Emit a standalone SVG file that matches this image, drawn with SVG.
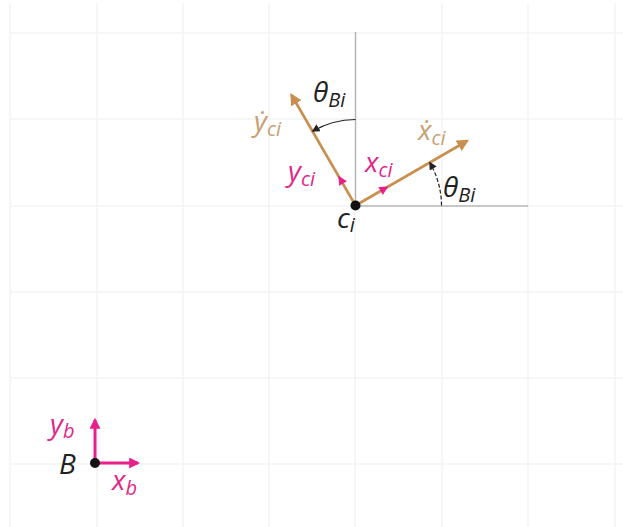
<svg xmlns="http://www.w3.org/2000/svg" width="623" height="527" viewBox="0 0 623 527">
<style>
.grid{stroke:#f4f4f4;stroke-width:1.5;fill:none}
.ref{stroke:#b5b5b5;stroke-width:1.5;fill:none}
.orange{stroke:#c98f4f;stroke-width:2.6;fill:none}
.pink{stroke:#e8208a;stroke-width:3;fill:none}
.arc{stroke:#222;stroke-width:1.2;fill:none}
.t{font-family:"Open Sans","DejaVu Sans",sans-serif;font-style:italic;font-size:28px}
.sub{font-size:20px}
.lo{fill:#c9a072}
.lp{fill:#e0288a}
.lk{fill:#222}
</style>
<defs>
<marker id="ao" viewBox="0 0 10 10" refX="8" refY="5" markerWidth="12" markerHeight="12" markerUnits="userSpaceOnUse" orient="auto"><path d="M0,0 L10,5 L0,10 Z" fill="#c98f4f"/></marker>
<marker id="ap" viewBox="0 0 10 10" refX="8" refY="5" markerWidth="11" markerHeight="11" markerUnits="userSpaceOnUse" orient="auto"><path d="M0,0 L10,5 L0,10 Z" fill="#e8208a"/></marker>
<marker id="ak" viewBox="0 0 10 10" refX="8" refY="5" markerWidth="8" markerHeight="8" markerUnits="userSpaceOnUse" orient="auto"><path d="M0,0 L10,5 L0,10 Z" fill="#222"/></marker>
</defs>
<rect width="623" height="527" fill="#fff"/>
<g id="grid" class="grid">
<path d="M10,3V527M97,3V527M183,3V527M269,3V527M355,206V527M442,3V527M528,3V527M615,3V527"/>
<path d="M10,33H623M10,119H623M10,206H355M528,206H623M10,292H623M10,378H623M10,464H623"/>
</g>
<g id="connectors">
<path class="ref" d="M355.5,32V206H528"/>
<line class="orange" x1="355.5" y1="205.5" x2="467" y2="141" marker-end="url(#ao)"/>
<line class="orange" x1="355.5" y1="205.5" x2="291.5" y2="95" marker-end="url(#ao)"/>
<path d="M5,0 L-4,-4.5 L-4,4.5 Z" fill="#e8208a" transform="translate(384,189) rotate(-30)"/>
<path d="M5,0 L-4,-4.5 L-4,4.5 Z" fill="#e8208a" transform="translate(341,180) rotate(-120)"/>
<path class="arc" d="M355.5,119.5 A86,86 0 0,0 313,131" marker-end="url(#ak)"/>
<path class="arc" d="M441.5,205.5 A86,86 0 0,0 430,163" stroke-dasharray="4 2" marker-end="url(#ak)"/>
<line class="pink" x1="95" y1="463" x2="95" y2="420" marker-end="url(#ap)"/>
<line class="pink" x1="95" y1="463" x2="138" y2="463" marker-end="url(#ap)"/>
</g>
<g id="node-ci">
<circle cx="355.5" cy="205.5" r="5" fill="#111"/>
<text class="t lk" x="337" y="228">c<tspan class="sub" dy="4">i</tspan></text>
</g>
<g id="node-B">
<circle cx="95" cy="463" r="5" fill="#111"/>
<text class="t lk" x="59" y="474" font-size="28">B</text>
</g>
<g id="labels">
<text class="t lk" x="313" y="102">θ<tspan class="sub" dy="5">Bi</tspan></text>
<text class="t lk" x="443" y="197">θ<tspan class="sub" dy="5">Bi</tspan></text>
<text class="t lo" x="254" y="131">ẏ<tspan class="sub" dy="5">ci</tspan></text>
<text class="t lo" x="418" y="140">ẋ<tspan class="sub" dy="5">ci</tspan></text>
<text class="t lp" x="288" y="181">y<tspan class="sub" dy="5">ci</tspan></text>
<text class="t lp" x="365" y="172">x<tspan class="sub" dy="5">ci</tspan></text>
<text class="t lp" x="50" y="434">y<tspan class="sub" dy="4">b</tspan></text>
<text class="t lp" x="112" y="490">x<tspan class="sub" dy="5">b</tspan></text>
</g>
</svg>
